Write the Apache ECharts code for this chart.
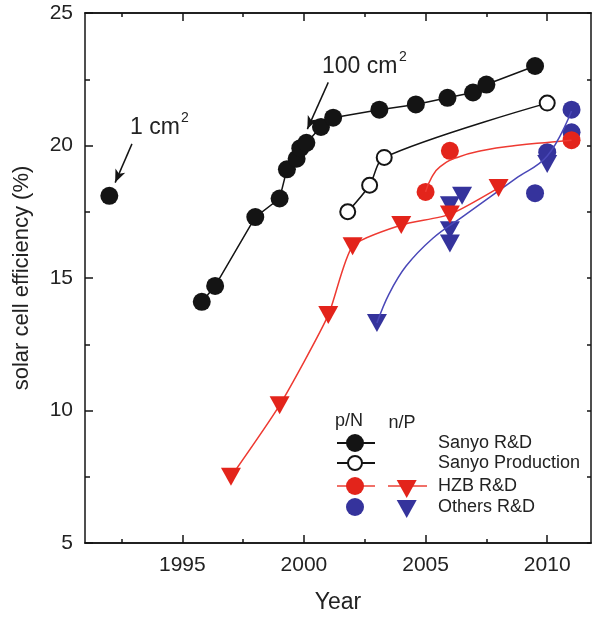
<!DOCTYPE html>
<html>
<head>
<meta charset="utf-8">
<script src="https://cdn.jsdelivr.net/npm/echarts@6/dist/echarts.min.js"></script>
<style>
html, body { margin: 0; padding: 0; background: #fff; }
#chart { width: 596px; height: 619px; }
</style>
</head>
<body>
<div id="chart"></div>
<script>
// values: [year, efficiency %]
const sanyoRD = [[1995.8, 14.1], [1996.35, 14.7], [1998, 17.3], [1999, 18.0], [1999.3, 19.1], [1999.7, 19.5],
  [1999.85, 19.9], [2000.1, 20.1], [2000.7, 20.7], [2001.2, 21.05], [2003.1, 21.35], [2004.6, 21.55],
  [2005.9, 21.8], [2006.95, 22.0], [2007.5, 22.3], [2009.5, 23.0]]
const sanyo1cm = [[1992, 18.1]]
const sanyoProd = [[2001.8, 17.5], [2002.7, 18.5], [2003.3, 19.55], [2010, 21.6]]
const hzbPN = [[2005, 18.25], [2006, 19.8], [2011, 20.2]]
const hzbPNFit = [[2005, 18.25], [2005.25, 18.8], [2005.6, 19.2], [2006.3, 19.55], [2007.4, 19.82],
  [2008.7, 20.0], [2010.2, 20.13], [2011, 20.2]]
const hzbNP = [[1997, 7.5], [1999, 10.2], [2001, 13.6], [2002, 16.2], [2004, 17.0], [2006, 17.4], [2008, 18.4]]
const othersPN = [[2009.5, 18.2], [2010, 19.75], [2011, 20.5], [2011, 21.35]]
const othersNP = [[2003, 13.3], [2006, 16.3], [2006, 16.8], [2006, 17.75], [2006.5, 18.1], [2010, 19.3]]
const othersNPFit = [[2003, 13.3], [2003.5, 14.4], [2004.2, 15.45], [2005.3, 16.5], [2006.5, 17.3],
  [2008.7, 18.75], [2010, 19.6], [2011, 21.3]]

const xTicks = [1995, 2000, 2005, 2010]
const xMinorTicks = [1992.5, 1997.5, 2002.5, 2007.5]

const black = '#141414'
const red = '#e3241b'
const blue = '#35339c'
const font = '"Liberation Sans", Arial, sans-serif'

const chart = echarts.init(document.getElementById('chart'))

function xAxis(pos, ticks, len, labels) {
  return {
    type: 'value', position: pos, min: 1991, max: 2011.8,
    splitLine: { show: false },
    axisLine: { show: true, onZero: false, lineStyle: { color: black, width: 1.5 } },
    axisTick: { inside: true, length: len, customValues: ticks, lineStyle: { color: black, width: 1.5 } },
    axisLabel: labels ? { customValues: ticks, formatter: v => String(v), fontSize: 21, color: '#222', fontFamily: font, margin: 12 } : { show: false }
  }
}
function yAxis(pos, len, labels) {
  return {
    type: 'value', position: pos, min: 5, max: 25, interval: 5,
    splitLine: { show: false },
    axisLine: { show: true, onZero: false, lineStyle: { color: black, width: 1.5 } },
    axisTick: { inside: true, length: len, lineStyle: { color: black, width: 1.5 } },
    minorTick: { show: true, splitNumber: 2, length: labels ? 5 : 4, lineStyle: { color: black, width: 1.5 } },
    axisLabel: labels ? { fontSize: 21, color: '#222', fontFamily: font, margin: 12 } : { show: false }
  }
}

const x0 = xAxis('bottom', xTicks, 8, true)
x0.name = 'Year'
x0.nameLocation = 'middle'
x0.nameGap = 48
x0.nameTextStyle = { fontSize: 23, color: '#222', fontFamily: font }
const y0 = yAxis('left', 8, true)
y0.name = 'solar cell efficiency (%)'
y0.nameLocation = 'middle'
y0.nameGap = 52
y0.nameTextStyle = { fontSize: 22, color: '#222', fontFamily: font }

const down = { symbol: 'triangle', symbolRotate: 180, symbolSize: [20, 18] }

function txt(x, y, s, size, align) {
  return { type: 'text', x: x, y: y, silent: true,
    style: { text: s, font: size + 'px ' + font, fill: '#222', align: align || 'left', textAlign: align || 'left',
      verticalAlign: 'middle', textVerticalAlign: 'middle' } }
}
function seg(x1, x2, y, color) {
  return { type: 'line', silent: true, shape: { x1: x1, y1: y, x2: x2, y2: y }, style: { stroke: color, lineWidth: 2 } }
}
function dot(cx, cy, r, fill, stroke) {
  return { type: 'circle', silent: true, shape: { cx: cx, cy: cy, r: r },
    style: { fill: fill, stroke: stroke || null, lineWidth: 2 } }
}
function tri(cx, top, color) {
  return { type: 'polygon', silent: true, shape: { points: [[cx - 10, top], [cx + 10, top], [cx, top + 18]] },
    style: { fill: color } }
}

chart.setOption({
  animation: false,
  grid: { left: 85, right: 5, top: 13, bottom: 71 },
  xAxis: [x0, xAxis('bottom', xMinorTicks, 4, false), xAxis('top', xTicks, 8, false), xAxis('top', xMinorTicks, 4, false)],
  yAxis: [y0, yAxis('right', 4, false)],
  series: [
    { type: 'line', data: hzbPNFit, smooth: true, symbol: 'none', silent: true,
      lineStyle: { color: '#ee3a32', width: 1.5 } },
    { type: 'line', data: othersNPFit, smooth: 0.4, symbol: 'none', silent: true,
      lineStyle: { color: '#4a48b8', width: 1.5 } },
    { type: 'line', data: sanyoProd, smooth: 0.3, symbol: 'circle', symbolSize: 15, silent: true,
      itemStyle: { color: '#fff', borderColor: black, borderWidth: 2 }, lineStyle: { color: black, width: 1.5 } },
    Object.assign({ type: 'line', data: hzbNP, smooth: 0.2, silent: true,
      itemStyle: { color: red }, lineStyle: { color: '#ee3a32', width: 1.5 } }, down),
    Object.assign({ type: 'scatter', data: othersNP, silent: true, itemStyle: { color: blue, opacity: 1 } }, down),
    { type: 'scatter', data: othersPN, symbolSize: 18, silent: true, itemStyle: { color: blue, opacity: 1 } },
    { type: 'scatter', data: hzbPN, symbolSize: 18, silent: true, itemStyle: { color: red, opacity: 1 } },
    { type: 'line', data: sanyoRD, symbol: 'circle', symbolSize: 18, silent: true,
      itemStyle: { color: black }, lineStyle: { color: black, width: 1.5 } },
    { type: 'scatter', data: sanyo1cm, symbolSize: 18, silent: true, itemStyle: { color: black, opacity: 1 },
      markLine: {
        silent: true, symbol: ['none', 'arrow'], symbolSize: [8, 13], label: { show: false },
        lineStyle: { color: black, width: 1.5, type: 'solid' },
        data: [
          [{ coord: [1992.93, 20.06] }, { coord: [1992.24, 18.6] }],
          [{ coord: [2001.0, 22.38] }, { coord: [2000.14, 20.62] }]
        ]
      } }
  ],
  graphic: [
    txt(130, 128, '1 cm', 23), txt(181, 118, '2', 14),
    txt(322, 67, '100 cm', 23), txt(399, 57, '2', 14),
    txt(349, 421, 'p/N', 18, 'center'), txt(402, 423, 'n/P', 18, 'center'),
    seg(337, 375, 443, black), dot(355, 443, 9, black),
    seg(337, 375, 463, black), dot(355, 463, 7, '#fff', black),
    seg(337, 375, 486, '#f07068'), dot(355, 486, 9, red),
    seg(388, 427, 486, '#f07068'), tri(406.7, 480, red),
    dot(355, 507, 9, blue), tri(406.7, 500, blue),
    txt(438, 443, 'Sanyo R&D', 18), txt(438, 463, 'Sanyo Production', 18),
    txt(438, 486, 'HZB R&D', 18), txt(438, 507, 'Others R&D', 18)
  ]
})
</script>
</body>
</html>
